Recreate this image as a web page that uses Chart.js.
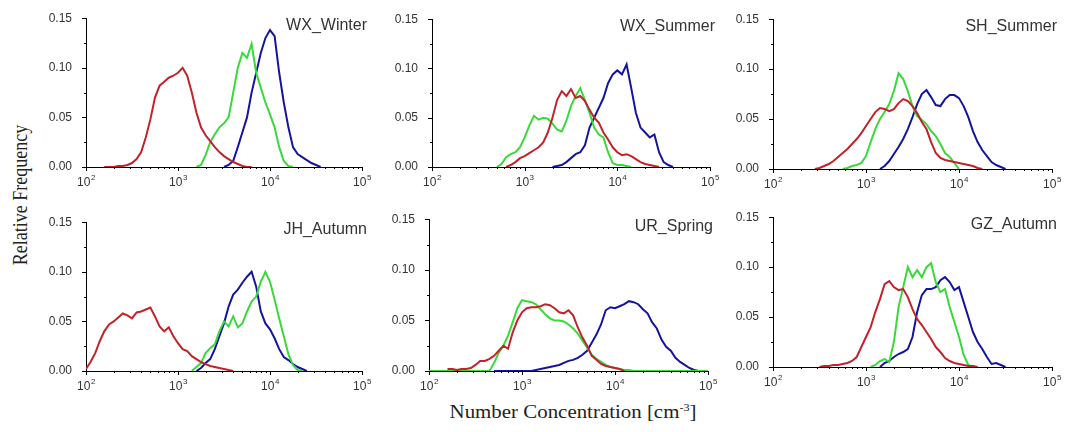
<!DOCTYPE html>
<html>
<head>
<meta charset="utf-8">
<script src="https://cdn.jsdelivr.net/npm/chart.js@4.4.1/dist/chart.umd.min.js"></script>
<style>
  body { margin: 0; background: #fff; width: 1067px; height: 432px; position: relative; overflow: hidden; }
  canvas { position: absolute; }
  .ytitle { position: absolute; left: 21px; top: 195px; transform: translate(-50%, -50%) scaleX(1.12) rotate(-90deg);
            font: 18px "Liberation Serif", "Times New Roman", serif; color: #222; white-space: nowrap; }
  .xtitle { position: absolute; left: 573px; top: 401px; transform: translateX(-50%) scaleX(1.1);
            font: 19px "Liberation Serif", "Times New Roman", serif; color: #222; white-space: nowrap; }
  .xtitle sup { font-size: 11px; }
</style>
</head>
<body>
<div class="ytitle">Relative Frequency</div>
<div class="xtitle">Number Concentration [cm<sup>-3</sup>]</div>
<canvas id="p0"></canvas><canvas id="p1"></canvas><canvas id="p2"></canvas>
<canvas id="p3"></canvas><canvas id="p4"></canvas><canvas id="p5"></canvas>
<script>
// ==================== DATA ====================
// bin centres of the number concentration histogram [cm-3], 20 bins per decade
const conc = [100, 112, 126, 141, 158, 178, 200, 224, 251, 282, 316, 355, 398, 447, 501, 562, 631, 708, 794, 891,
  1000, 1122, 1259, 1413, 1585, 1778, 1995, 2239, 2512, 2818, 3162, 3548, 3981, 4467, 5012, 5623, 6310, 7079, 7943, 8913,
  10000, 11220, 12589, 14125, 15849, 17783, 19953, 22387, 25119, 28184, 31623, 35481, 39811, 44668, 50119, 56234, 63096, 70795, 79433, 89125,
  100000];

const panelTitles = ["WX_Winter", "WX_Summer", "SH_Summer", "JH_Autumn", "UR_Spring", "GZ_Autumn"];
const yTicks = [0, 0.05, 0.10, 0.15];
const xTickExponents = [2, 3, 4, 5];
const seriesColors = ["#c1232b", "#3ad93a", "#14149e"]; // red, green, blue

// first bin index of red, green, blue in each panel
const wxWinterStart = [4, 24, 30];
const wxWinterRed = [0, 0, 0, .001, .001, .002, .004, .008, .015, .03, .048, .07, .082, .086, .09, .092, .095, .1, .092, .075, .055, .04, .032, .026, .02, .015, .011, .008, .005, .003, .001, 0, 0];
const wxWinterGreen = [0, .002, .012, .025, .033, .04, .044, .05, .075, .1, .115, .11, .124, .095, .08, .065, .053, .04, .02, .006, .001, 0];
const wxWinterBlue = [0, .002, .006, .02, .035, .05, .075, .095, .115, .13, .138, .132, .095, .065, .04, .02, .013, .01, .007, .004, .002, 0];

const wxSummerStart = [16, 14, 26];
const wxSummerRed = [0, .002, .005, .009, .011, .014, .017, .02, .025, .035, .05, .068, .077, .072, .079, .07, .072, .067, .058, .05, .045, .035, .028, .02, .015, .012, .013, .011, .008, .005, .003, .002, .001, 0];
const wxSummerGreen = [0, .003, .01, .013, .015, .02, .03, .042, .052, .048, .05, .049, .044, .038, .036, .047, .062, .072, .08, .068, .055, .04, .033, .03, .015, .004, .002, .002, .001, 0];
const wxSummerBlue = [0, .001, .002, .005, .009, .013, .015, .022, .04, .05, .06, .07, .085, .094, .098, .094, .104, .08, .055, .04, .035, .03, .033, .015, .005, .002, 0];

const shSummerStart = [9, 15, 23];
const shSummerRed = [0, .001, .003, .005, .008, .012, .016, .02, .025, .03, .036, .043, .05, .057, .061, .06, .058, .06, .066, .07, .068, .063, .056, .047, .04, .027, .016, .011, .009, .008, .007, .006, .005, .004, .003, .001, 0];
const shSummerGreen = [0, .001, .003, .004, .006, .013, .027, .04, .05, .057, .065, .078, .096, .09, .078, .063, .053, .049, .045, .038, .033, .025, .016, .012, .006, 0];
const shSummerBlue = [0, .003, .008, .015, .022, .03, .04, .052, .065, .075, .079, .072, .064, .063, .07, .074, .074, .071, .063, .052, .038, .027, .019, .013, .007, .004, .002, 0];

const jhAutumnStart = [0, 23, 24];
const jhAutumnRed = [.002, .009, .018, .03, .04, .047, .05, .054, .058, .056, .053, .059, .06, .062, .064, .055, .045, .04, .044, .035, .028, .022, .02, .015, .012, .009, .007, .005, .004, .003, .002, .001, 0];
const jhAutumnGreen = [0, .004, .008, .018, .023, .027, .04, .05, .045, .055, .044, .048, .06, .07, .075, .09, .1, .09, .072, .053, .035, .017, .006, .001, 0];
const jhAutumnBlue = [0, .003, .008, .012, .022, .035, .048, .065, .077, .082, .089, .095, .1, .085, .06, .048, .042, .033, .022, .014, .011, .007, .004, .002, 0];

const urSpringStart = [4, 0, 14];
const urSpringRed = [.002, .002, .001, .002, .002, .003, .006, .01, .01, .012, .015, .02, .025, .022, .038, .05, .058, .062, .063, .063, .064, .066, .065, .062, .058, .057, .06, .055, .043, .033, .025, .015, .011, .007, .005, .004, .003, .002, 0];
const urSpringGreen = [0, 0, 0, 0, 0, 0, 0, 0, 0, 0, 0, 0, 0, 0,
  .008, .018, .025, .035, .048, .062, .07, .069, .068, .066, .061, .056, .052, .05, .05, .049, .046, .042, .037, .03, .023, .016, .012, .009, .006, .004, .003, .002, .001, .001,
  0, 0, 0, 0, 0, 0, 0, 0, 0, 0, 0, 0, 0, 0, 0, 0, 0];
const urSpringBlue = [0, 0, 0, 0, 0, 0, 0, 0, 0,
  .001, .002, .003, .004, .005, .006, .008, .01, .011, .013, .016, .02, .028, .036, .046, .06, .063, .062, .064, .066, .069, .068, .066, .061, .057, .048, .042, .031, .024, .02, .013, .009, .006, .003, .001, 0];

const gzAutumnStart = [10, 21, 23];
const gzAutumnRed = [0, .001, .001, .002, .002, .003, .004, .006, .01, .02, .03, .04, .055, .068, .083, .086, .08, .077, .078, .07, .058, .048, .042, .035, .028, .02, .015, .009, .006, .004, .003, .002, .001, .001, 0];
const gzAutumnGreen = [0, .002, .006, .008, .005, .025, .06, .08, .1, .09, .097, .09, .1, .104, .085, .075, .078, .06, .045, .03, .012, .002, 0];
const gzAutumnBlue = [0, .004, .006, .01, .013, .015, .018, .03, .055, .072, .078, .078, .08, .087, .09, .085, .077, .08, .065, .05, .035, .025, .018, .01, .003, .004, .002, 0];

// ==================== LAYOUT ====================
// plot area of each panel in page pixels: left, top, right, bottom
const plotBoxes = [
  [86, 15, 362, 167], [432, 16, 710, 167], [773, 16, 1052, 169],
  [86, 219, 362, 371], [429, 216, 708, 371], [773, 214, 1052, 367]
];
const AXIS_W = 42, AXIS_H = 24, PAD_T = 10, PAD_R = 16;

const panels = [
  { start: wxWinterStart, series: [wxWinterRed, wxWinterGreen, wxWinterBlue] },
  { start: wxSummerStart, series: [wxSummerRed, wxSummerGreen, wxSummerBlue] },
  { start: shSummerStart, series: [shSummerRed, shSummerGreen, shSummerBlue] },
  { start: jhAutumnStart, series: [jhAutumnRed, jhAutumnGreen, jhAutumnBlue] },
  { start: urSpringStart, series: [urSpringRed, urSpringGreen, urSpringBlue] },
  { start: gzAutumnStart, series: [gzAutumnRed, gzAutumnGreen, gzAutumnBlue] }
];

function toPoints(values, start){
  return values.map((v, i) => ({ x: conc[start + i], y: v }));
}

// ==================== AXIS DECORATION ====================
// minor/major tick marks, 10^n labels and the panel name
const axisDecor = {
  id: "axisDecor",
  afterDraw(chart, args, opts){
    const { ctx, chartArea: a, scales: { x, y } } = chart;
    ctx.save();
    ctx.strokeStyle = "#000";
    ctx.lineWidth = 1;
    ctx.beginPath();
    for (let e = 2; e <= 5; e++){
      for (let k = 1; k <= 9; k++){
        if (e === 5 && k > 1) break;
        const px = Math.round(x.getPixelForValue(k * Math.pow(10, e))) + 0.5;
        const len = k === 1 ? 4 : 2;
        ctx.moveTo(px, a.bottom);
        ctx.lineTo(px, a.bottom + len);
      }
    }
    for (let i = 0; i < yTicks.length; i++){
      const py = Math.round(y.getPixelForValue(yTicks[i])) + 0.5;
      ctx.moveTo(a.left, py);
      ctx.lineTo(a.left - 4, py);
      if (i < yTicks.length - 1){
        const pm = Math.round(y.getPixelForValue((yTicks[i] + yTicks[i + 1]) / 2)) + 0.5;
        ctx.moveTo(a.left, pm);
        ctx.lineTo(a.left - 2, pm);
      }
    }
    ctx.stroke();

    ctx.fillStyle = "#333";
    ctx.textBaseline = "alphabetic";
    ctx.textAlign = "left";
    xTickExponents.forEach(e => {
      const px = x.getPixelForValue(Math.pow(10, e));
      ctx.font = '12px "Liberation Sans", Arial, sans-serif';
      const wBase = ctx.measureText("10").width;
      ctx.font = '8px "Liberation Sans", Arial, sans-serif';
      const wExp = ctx.measureText(String(e)).width;
      const x0 = px - (wBase + wExp) / 2;
      ctx.font = '12px "Liberation Sans", Arial, sans-serif';
      ctx.fillText("10", x0, a.bottom + 19);
      ctx.font = '8px "Liberation Sans", Arial, sans-serif';
      ctx.fillText(String(e), x0 + wBase + 0.5, a.bottom + 13);
    });

    ctx.font = '16px "Liberation Sans", Arial, sans-serif';
    ctx.textAlign = "right";
    ctx.fillText(opts.title, a.right + 5, a.top + 12);
    ctx.restore();
  }
};

// ==================== CHARTS ====================
panels.forEach((p, n) => {
  const [l, t, r, b] = plotBoxes[n];
  const cv = document.getElementById("p" + n);
  cv.width = (r - l) + AXIS_W + PAD_R;
  cv.height = (b - t) + PAD_T + AXIS_H;
  cv.style.left = (l - AXIS_W) + "px";
  cv.style.top = (t - PAD_T) + "px";

  new Chart(cv.getContext("2d"), {
    type: "line",
    data: {
      datasets: p.series.map((vals, k) => ({
        data: toPoints(vals, p.start[k]),
        borderColor: seriesColors[k],
        borderWidth: 2,
        pointRadius: 0,
        fill: false,
        tension: 0
      }))
    },
    options: {
      responsive: false,
      animation: false,
      devicePixelRatio: 1,
      layout: { padding: { top: PAD_T, right: PAD_R, left: 0, bottom: 0 } },
      plugins: {
        legend: { display: false },
        tooltip: { enabled: false },
        axisDecor: { title: panelTitles[n] }
      },
      scales: {
        x: {
          type: "logarithmic",
          min: 100, max: 100000,
          grid: { display: false },
          border: { display: true, color: "#000", width: 1 },
          ticks: { display: false },
          afterFit: s => { s.height = AXIS_H; }
        },
        y: {
          min: 0, max: 0.15,
          grid: { display: false },
          border: { display: true, color: "#000", width: 1 },
          ticks: {
            stepSize: 0.05,
            padding: 6,
            color: "#333",
            font: { family: '"Liberation Sans", Arial, sans-serif', size: 12 },
            callback: v => v.toFixed(2)
          },
          afterFit: s => { s.width = AXIS_W; }
        }
      }
    },
    plugins: [axisDecor]
  });
});
</script>
</body>
</html>
